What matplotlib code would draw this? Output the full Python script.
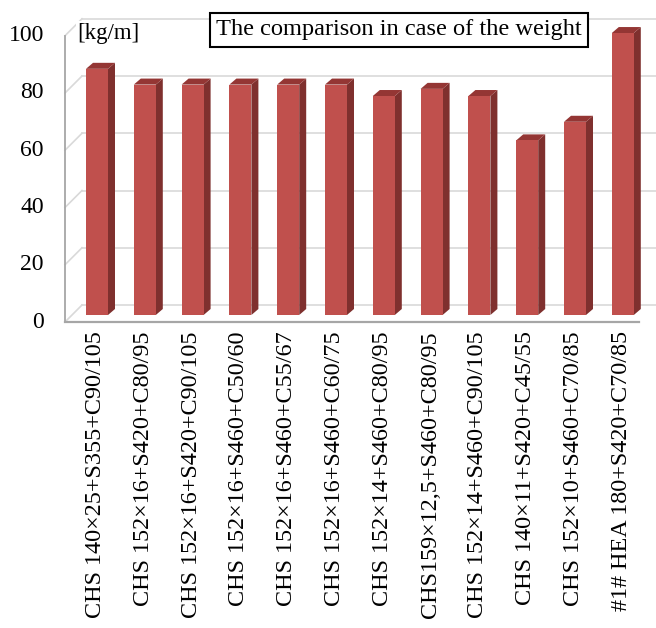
import matplotlib
matplotlib.use("Agg")
import matplotlib.pyplot as plt
from matplotlib.patches import Polygon

categories = [
    "CHS 140×25+S355+C90/105",
    "CHS 152×16+S420+C80/95",
    "CHS 152×16+S420+C90/105",
    "CHS 152×16+S460+C50/60",
    "CHS 152×16+S460+C55/67",
    "CHS 152×16+S460+C60/75",
    "CHS 152×14+S460+C80/95",
    "CHS159×12,5+S460+C80/95",
    "CHS 152×14+S460+C90/105",
    "CHS 140×11+S420+C45/55",
    "CHS 152×10+S460+C70/85",
    "#1# HEA 180+S420+C70/85",
]
weights = [86.0, 80.5, 80.5, 80.5, 80.5, 80.5, 76.5, 79.0, 76.5, 61.0, 67.5, 98.5]
y_ticks = [0, 20, 40, 60, 80, 100]
title = "The comparison in case of the weight"
unit = "[kg/m]"

W, H = 656, 628
fig = plt.figure(figsize=(W / 100, H / 100), dpi=100)
ax = fig.add_axes([0, 0, 1, 1])
ax.set_axis_off()

# pixel geometry of the oblique projection
px_cat = 47.8      # pixels per category
px_val = 2.8625    # pixels per unit of weight
x0_px = 97.0       # centre of first bar front face
y0_px = 315.0      # baseline in the bar plane
ax.set_xlim(-x0_px / px_cat, (W - x0_px) / px_cat)
ax.set_ylim((y0_px - H) / px_val, y0_px / px_val)


def dx(p):
    return p / px_cat


def dy(p):
    return p / px_val


def px_x(p):
    return -x0_px / px_cat + dx(p)


serif = ["Liberation Serif", "DejaVu Serif"]
grid_c = "#d9d9d9"
axis_c = "#a6a6a6"
front_c = "#c0504d"
side_c = "#7f302e"
top_c = "#943634"

front_drop = dy(7)     # floor front edge sits below the bar plane
back_rise = dy(10)     # back wall sits above the bar plane

n = len(categories)
x_left_front = px_x(65)
x_right_front = px_x(639)
x_back_left = px_x(82)
x_back_right = px_x(W)

# back wall gridlines and left wall diagonals
for v in y_ticks:
    yb = v + back_rise
    yf = v - front_drop
    ax.plot([x_back_left, x_back_right], [yb, yb], color=grid_c, lw=1.2, zorder=1)
    ax.plot([x_left_front, x_back_left], [yf, yb], color=grid_c, lw=1.2, zorder=1)

# left axis line and front floor edge
ax.plot([x_left_front, x_left_front], [-front_drop, 100 - front_drop],
        color=axis_c, lw=1.3, zorder=2)
ax.plot([x_left_front, x_right_front], [-front_drop, -front_drop],
        color=axis_c, lw=1.6, zorder=2)

# 3D columns: front face via bar, side and top faces as polygons
bw = dx(22)
sd_x = dx(7)
sd_y = dy(6)
xs = list(range(n))
ax.bar(xs, weights, width=bw, color=front_c, zorder=4, linewidth=0)
for x, v in zip(xs, weights):
    r = x + bw / 2
    l = x - bw / 2
    side = Polygon([(r, 0), (r + sd_x, sd_y), (r + sd_x, v + sd_y), (r, v)],
                   closed=True, facecolor=side_c, edgecolor="none", zorder=3)
    top = Polygon([(l, v), (r, v), (r + sd_x, v + sd_y), (l + sd_x, v + sd_y)],
                  closed=True, facecolor=top_c, edgecolor="none", zorder=3)
    ax.add_patch(side)
    ax.add_patch(top)

# value axis labels on the front plane
for v in y_ticks:
    ax.text(px_x(44), v - front_drop, str(v), ha="right", va="center",
            fontsize=17, family=serif, color="#000000")

# category labels
for x, c in zip(xs, categories):
    ax.text(x - dx(1.5), -dy(16), c, rotation=90, ha="center", va="top",
            fontsize=17.4, family=serif, color="#000000")

# unit label and boxed title
ax.text(px_x(77), y0_px / px_val - dy(33), unit, ha="left", va="center",
        fontsize=16.5, family=serif, color="#000000",
        bbox=dict(facecolor="white", edgecolor="none", pad=1))
ax.text(px_x(399), y0_px / px_val - dy(30), title, ha="center", va="center",
        fontsize=17.6, family=serif, color="#000000", zorder=6,
        bbox=dict(facecolor="white", edgecolor="black", linewidth=1.5,
                  boxstyle="square,pad=0.26"))

fig.savefig("out.png", dpi=100)
